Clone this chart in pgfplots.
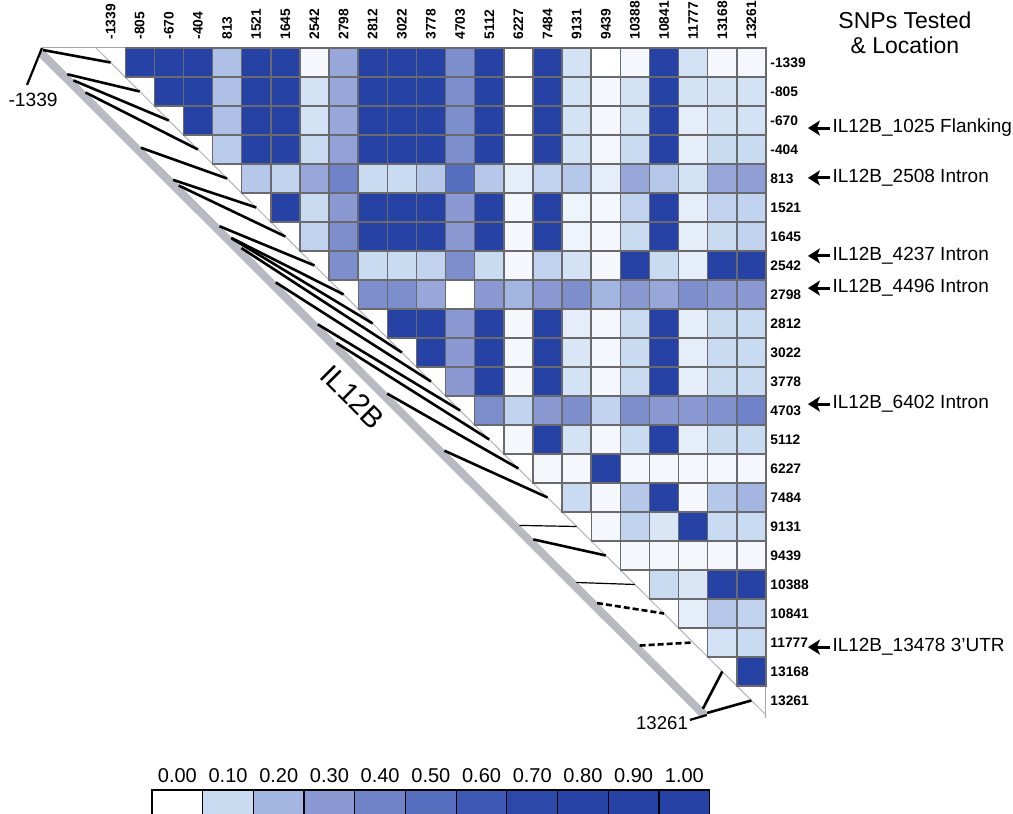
\documentclass[border=0pt]{standalone}
\usepackage{pgfplots}
\pgfplotsset{compat=1.18}
\usepackage{fontspec}
\setmainfont{Liberation Sans}
\usetikzlibrary{arrows.meta}
\definecolor{c0}{RGB}{255,255,255}
\definecolor{c1}{RGB}{200,219,241}
\definecolor{c2}{RGB}{163,181,225}
\definecolor{c3}{RGB}{138,153,210}
\definecolor{c4}{RGB}{112,131,200}
\definecolor{c5}{RGB}{86,110,190}
\definecolor{c6}{RGB}{62,90,180}
\definecolor{c7}{RGB}{44,72,168}
\definecolor{c8}{RGB}{40,68,166}
\definecolor{c9}{RGB}{38,66,164}
\definecolor{c10}{RGB}{38,66,166}
\definecolor{cellgrid}{RGB}{105,105,110}
\definecolor{bandgray}{RGB}{185,185,195}
\tikzset{
  conn/.style={black, line width=1.3pt},
  connthin/.style={black, line width=0.6pt},
  conndash/.style={black, line width=1.3pt, dash pattern=on 3pt off 1.5pt},
  collab/.style={rotate=90, anchor=west, font=\fontsize{6.9}{7.5}\selectfont\bfseries, inner sep=0pt},
  rowlab/.style={anchor=west, font=\fontsize{6.9}{7.5}\selectfont\bfseries, inner sep=0pt},
  ann/.style={anchor=west, font=\fontsize{9.5}{11}\selectfont, inner sep=0pt},
  annarrow/.style={-{Stealth[length=6pt,width=7.5pt,inset=1.5pt]}, line width=1.5pt, black},
}
\begin{document}
\begin{tikzpicture}
\begin{axis}[
  x=14.565pt, y=14.5pt,
  xmin=-0.5, xmax=22.5, ymin=-0.5, ymax=22.5,
  y dir=reverse,
  hide axis, clip=false,
  colormap={ld}{rgb255=(255,255,255) rgb255=(200,219,241) rgb255=(163,181,225) rgb255=(138,153,210) rgb255=(112,131,200) rgb255=(86,110,190) rgb255=(62,90,180) rgb255=(44,72,168) rgb255=(40,68,166) rgb255=(38,66,164) rgb255=(38,66,166)},
  point meta min=0, point meta max=1,
]
% picture bounds
\coordinate (BL) at (axis cs:-3.796,25.91);
\coordinate (TR) at (axis cs:30.98,-2.155);

% gene band
\draw[line width=3.5pt, bandgray] (axis cs:-2.42,-0.33) -- (axis cs:20.38,22.53);
\draw[line width=0.4pt, gray!70] (axis cs:-2.32,-0.43) -- (axis cs:20.48,22.43);
% matrix diagonal, top and right borders
\draw[line width=0.5pt, gray!60] (axis cs:-0.5,-0.5) -- (axis cs:22.5,22.5);
\draw[line width=0.5pt, gray!70] (axis cs:-2.35,-0.5) -- (axis cs:22.5,-0.5) -- (axis cs:22.5,22.6);

% connectors from gene position to diagonal
\foreach \i/\p/\s in {0/-1339/conn,1/-805/conn,2/-670/conn,3/-404/conn,4/813/conn,5/1521/conn,6/1645/conn,7/2542/conn,8/2798/conn,9/2812/conn,10/3022/conn,11/3778/conn,12/4703/conn,13/5112/conn,14/6227/conn,15/7484/conn,16/9131/connthin,17/9439/conn,18/10388/connthin,19/10841/conndash,20/11777/conndash,21/13168/conn,22/13261/conn}{
  \pgfmathsetmacro\tt{(\p+1339)/14600}
  \pgfmathsetmacro\bx{-2.32+22.80*\tt}
  \pgfmathsetmacro\by{-0.43+22.86*\tt}
  \edef\temp{\noexpand\draw[\s] (axis cs:\bx,\by) -- (axis cs:\i,\i);}
  \temp
}

% LD matrix (upper triangle)
\addplot[scatter, only marks, mark=square*, mark size=7.25pt, point meta=explicit,
  scatter/use mapped color={draw=cellgrid, fill=mapped color}, mark options={line width=0.7pt}]
coordinates {
(1,0)[0.95] (2,0)[0.95] (3,0)[0.95] (4,0)[0.17] (5,0)[0.95] (6,0)[0.95] (7,0)[0.02] (8,0)[0.25] (9,0)[0.95] (10,0)[0.95] (11,0)[0.95] (12,0)[0.35] (13,0)[0.95] (14,0)[0] (15,0)[0.95] (16,0)[0.08] (17,0)[0] (18,0)[0.02] (19,0)[0.95] (20,0)[0.08] (21,0)[0.02] (22,0)[0.02]
(2,1)[0.95] (3,1)[0.95] (4,1)[0.17] (5,1)[0.95] (6,1)[0.95] (7,1)[0.08] (8,1)[0.25] (9,1)[0.95] (10,1)[0.95] (11,1)[0.95] (12,1)[0.35] (13,1)[0.95] (14,1)[0] (15,1)[0.95] (16,1)[0.08] (17,1)[0.02] (18,1)[0.08] (19,1)[0.95] (20,1)[0.08] (21,1)[0.08] (22,1)[0.08]
(3,2)[0.95] (4,2)[0.17] (5,2)[0.95] (6,2)[0.95] (7,2)[0.08] (8,2)[0.25] (9,2)[0.95] (10,2)[0.95] (11,2)[0.95] (12,2)[0.35] (13,2)[0.95] (14,2)[0] (15,2)[0.95] (16,2)[0.08] (17,2)[0.02] (18,2)[0.08] (19,2)[0.95] (20,2)[0.05] (21,2)[0.08] (22,2)[0.08]
(4,3)[0.14] (5,3)[0.95] (6,3)[0.95] (7,3)[0.1] (8,3)[0.27] (9,3)[0.95] (10,3)[0.95] (11,3)[0.95] (12,3)[0.35] (13,3)[0.95] (14,3)[0] (15,3)[0.95] (16,3)[0.08] (17,3)[0.02] (18,3)[0.1] (19,3)[0.95] (20,3)[0.05] (21,3)[0.1] (22,3)[0.1]
(5,4)[0.15] (6,4)[0.12] (7,4)[0.25] (8,4)[0.4] (9,4)[0.1] (10,4)[0.1] (11,4)[0.15] (12,4)[0.5] (13,4)[0.15] (14,4)[0.05] (15,4)[0.12] (16,4)[0.15] (17,4)[0.05] (18,4)[0.25] (19,4)[0.15] (20,4)[0.08] (21,4)[0.25] (22,4)[0.28]
(6,5)[0.95] (7,5)[0.1] (8,5)[0.3] (9,5)[0.95] (10,5)[0.95] (11,5)[0.95] (12,5)[0.3] (13,5)[0.95] (14,5)[0.02] (15,5)[0.95] (16,5)[0.03] (17,5)[0.02] (18,5)[0.12] (19,5)[0.95] (20,5)[0.05] (21,5)[0.12] (22,5)[0.12]
(7,6)[0.12] (8,6)[0.35] (9,6)[0.95] (10,6)[0.95] (11,6)[0.95] (12,6)[0.3] (13,6)[0.95] (14,6)[0.02] (15,6)[0.95] (16,6)[0.03] (17,6)[0.02] (18,6)[0.1] (19,6)[0.95] (20,6)[0.05] (21,6)[0.1] (22,6)[0.12]
(8,7)[0.35] (9,7)[0.1] (10,7)[0.1] (11,7)[0.12] (12,7)[0.35] (13,7)[0.1] (14,7)[0.02] (15,7)[0.12] (16,7)[0.08] (17,7)[0.02] (18,7)[0.95] (19,7)[0.1] (20,7)[0.05] (21,7)[0.95] (22,7)[0.95]
(9,8)[0.35] (10,8)[0.35] (11,8)[0.25] (12,8)[0] (13,8)[0.3] (14,8)[0.2] (15,8)[0.3] (16,8)[0.35] (17,8)[0.2] (18,8)[0.3] (19,8)[0.25] (20,8)[0.35] (21,8)[0.3] (22,8)[0.3]
(10,9)[0.95] (11,9)[0.95] (12,9)[0.3] (13,9)[0.95] (14,9)[0.02] (15,9)[0.95] (16,9)[0.05] (17,9)[0.02] (18,9)[0.1] (19,9)[0.95] (20,9)[0.05] (21,9)[0.1] (22,9)[0.1]
(11,10)[0.95] (12,10)[0.3] (13,10)[0.95] (14,10)[0.02] (15,10)[0.95] (16,10)[0.07] (17,10)[0.02] (18,10)[0.1] (19,10)[0.95] (20,10)[0.05] (21,10)[0.1] (22,10)[0.1]
(12,11)[0.3] (13,11)[0.95] (14,11)[0.02] (15,11)[0.95] (16,11)[0.08] (17,11)[0.02] (18,11)[0.1] (19,11)[0.95] (20,11)[0.05] (21,11)[0.1] (22,11)[0.1]
(13,12)[0.35] (14,12)[0.12] (15,12)[0.3] (16,12)[0.35] (17,12)[0.12] (18,12)[0.35] (19,12)[0.3] (20,12)[0.3] (21,12)[0.33] (22,12)[0.4]
(14,13)[0.02] (15,13)[0.95] (16,13)[0.08] (17,13)[0.02] (18,13)[0.1] (19,13)[0.95] (20,13)[0.05] (21,13)[0.1] (22,13)[0.1]
(15,14)[0.02] (16,14)[0.02] (17,14)[0.95] (18,14)[0.02] (19,14)[0.02] (20,14)[0.02] (21,14)[0.02] (22,14)[0.02]
(16,15)[0.1] (17,15)[0.02] (18,15)[0.15] (19,15)[0.95] (20,15)[0.02] (21,15)[0.15] (22,15)[0.2]
(17,16)[0.02] (18,16)[0.12] (19,16)[0.07] (20,16)[0.95] (21,16)[0.1] (22,16)[0.1]
(18,17)[0.02] (19,17)[0.02] (20,17)[0.02] (21,17)[0.02] (22,17)[0.02]
(19,18)[0.1] (20,18)[0.07] (21,18)[0.95] (22,18)[0.95]
(20,19)[0.05] (21,19)[0.15] (22,19)[0.12]
(21,20)[0.08] (22,20)[0.1]
(22,21)[0.95]
};

% SNP labels on top and right
\foreach \lab [count=\n from 0] in {-1339,-805,-670,-404,813,1521,1645,2542,2798,2812,3022,3778,4703,5112,6227,7484,9131,9439,10388,10841,11777,13168,13261}{
  \edef\temp{\noexpand\node[collab] at (axis cs:\n,-0.78) {\lab};
             \noexpand\node[rowlab] at (axis cs:22.64,\n) {\lab};}
  \temp
}

% end labels of the gene
\draw[black, line width=1.1pt] (axis cs:-2.869,0.776) -- (axis cs:-2.354,-0.5);
\node[font=\fontsize{9.6}{11}\selectfont] at (axis cs:-2.66,1.29) {-1339};
\draw[black, line width=1.1pt] (axis cs:19.89,22.67) -- (axis cs:20.47,22.5);
\node[font=\fontsize{9.3}{11}\selectfont] at (axis cs:18.93,22.78) {13261};
\node[rotate=-45, font=\fontsize{14.5}{16}\selectfont] at (axis cs:8.32,11.53) {IL12B};

% title and annotations
\node[align=center, font=\fontsize{11.5}{12.5}\selectfont] at (axis cs:27.27,-1.03) {SNPs Tested\\\& Location};
\draw[annarrow] (axis cs:24.70,2.26) -- (axis cs:23.94,2.26);
\node[ann] at (axis cs:24.77,2.26) {IL12B\_1025 Flanking};
\draw[annarrow] (axis cs:24.70,3.98) -- (axis cs:23.94,3.98);
\node[ann] at (axis cs:24.77,3.98) {IL12B\_2508 Intron};
\draw[annarrow] (axis cs:24.70,6.67) -- (axis cs:23.94,6.67);
\node[ann] at (axis cs:24.77,6.67) {IL12B\_4237 Intron};
\draw[annarrow] (axis cs:24.70,7.78) -- (axis cs:23.94,7.78);
\node[ann] at (axis cs:24.77,7.78) {IL12B\_4496 Intron};
\draw[annarrow] (axis cs:24.70,11.78) -- (axis cs:23.94,11.78);
\node[ann] at (axis cs:24.77,11.78) {IL12B\_6402 Intron};
\draw[annarrow] (axis cs:24.70,20.16) -- (axis cs:23.94,20.16);
\node[ann] at (axis cs:24.77,20.16) {IL12B\_13478 3'UTR};

% colour key
\foreach \k/\lab in {0/0.00,1/0.10,2/0.20,3/0.30,4/0.40,5/0.50,6/0.60,7/0.70,8/0.80,9/0.90,10/1.00}{
  \pgfmathsetmacro\xa{1.422+1.7405*\k}
  \pgfmathsetmacro\xb{1.422+1.7405*(\k+1)}
  \pgfmathsetmacro\xc{1.422+1.7405*(\k+0.5)}
  \edef\temp{\noexpand\filldraw[fill=c\k, draw=black, line width=0.6pt] (axis cs:\xa,25.09) rectangle (axis cs:\xb,26.4);
             \noexpand\node[font=\noexpand\fontsize{10}{12}\noexpand\selectfont] at (axis cs:\xc,24.60) {\lab};}
  \temp
}
\draw[black, line width=1pt] (axis cs:1.422,25.09) -- (axis cs:20.568,25.09);
\end{axis}
\pgfresetboundingbox
\useasboundingbox (BL) rectangle (TR);
\end{tikzpicture}
\end{document}
